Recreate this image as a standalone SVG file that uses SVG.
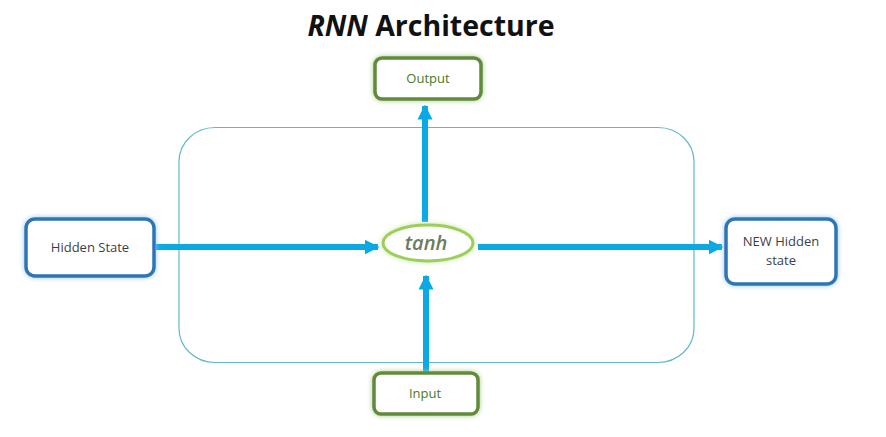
<svg xmlns="http://www.w3.org/2000/svg" width="886" height="437" viewBox="0 0 886 437">
<defs>
<style>
.title{font-family:"Open Sans","Liberation Sans",sans-serif;font-weight:bold;font-size:28.5px;fill:#111}
.lbl{font-family:"Open Sans","Liberation Sans",sans-serif;font-size:13px;text-anchor:middle}
.gbox{fill:#fff;stroke:#5f8b3a;stroke-width:3.5}
.bbox{fill:#fff;stroke:#2f74b5;stroke-width:3.5}
.conn{stroke:#0aa9e6;stroke-width:6;fill:none}
</style>
<filter id="gglow" x="-20%" y="-30%" width="140%" height="160%">
<feGaussianBlur in="SourceAlpha" stdDeviation="2.5" result="b"/>
<feFlood flood-color="#a9c98c"/>
<feComposite in2="b" operator="in" result="g"/>
<feMerge><feMergeNode in="g"/><feMergeNode in="SourceGraphic"/></feMerge>
</filter>
<filter id="bglow" x="-20%" y="-30%" width="140%" height="160%">
<feGaussianBlur in="SourceAlpha" stdDeviation="2.5" result="b"/>
<feFlood flood-color="#8fc6ef"/>
<feComposite in2="b" operator="in" result="g"/>
<feMerge><feMergeNode in="g"/><feMergeNode in="SourceGraphic"/></feMerge>
</filter>
<filter id="eglow" x="-20%" y="-40%" width="140%" height="180%">
<feGaussianBlur in="SourceAlpha" stdDeviation="2.5" result="b"/>
<feFlood flood-color="#c8e6a0"/>
<feComposite in2="b" operator="in" result="g"/>
<feMerge><feMergeNode in="g"/><feMergeNode in="SourceGraphic"/></feMerge>
</filter>
<marker id="ah" viewBox="0 0 10 10" refX="9" refY="5" markerWidth="2.5" markerHeight="2.7" orient="auto" markerUnits="strokeWidth">
<path d="M0,0 L10,5 L0,10 z" fill="#0aa9e6"/>
</marker>
</defs>
<rect width="886" height="437" fill="#fff"/>
<text class="title" x="431" y="36" text-anchor="middle"><tspan font-style="italic">RNN</tspan> Architecture</text>
<g id="cell">
<rect x="179" y="127.5" width="515" height="235" rx="36" ry="34" fill="none" stroke="#5fb8d0" stroke-width="1.2"/>
</g>
<g id="connectors">
<line class="conn" x1="156" y1="247" x2="378" y2="247" marker-end="url(#ah)"/>
<line class="conn" x1="478" y1="247" x2="722" y2="247" marker-end="url(#ah)"/>
<line class="conn" x1="425" y1="222" x2="425" y2="106" marker-end="url(#ah)"/>
<line class="conn" x1="426" y1="372" x2="426" y2="276" marker-end="url(#ah)"/>
</g>
<g id="output">
<rect class="gbox" x="375" y="58" width="106" height="41" rx="7" filter="url(#gglow)"/>
<text class="lbl" x="428" y="83" fill="#4a7a26">Output</text>
</g>
<g id="hidden">
<rect class="bbox" x="26" y="219" width="128" height="57" rx="9" filter="url(#bglow)"/>
<text class="lbl" x="90" y="252" fill="#3a3f4a">Hidden State</text>
</g>
<g id="tanh">
<ellipse cx="428" cy="243" rx="45" ry="18" fill="#fff" stroke="#9ccf5a" stroke-width="3" filter="url(#eglow)"/>
<text x="426" y="250" text-anchor="middle" font-family="'Open Sans','Liberation Sans',sans-serif" font-style="italic" font-weight="600" font-size="20" fill="#6b7d5c">tanh</text>
</g>
<g id="newhidden">
<rect class="bbox" x="726" y="219" width="110" height="65" rx="9" filter="url(#bglow)"/>
<text class="lbl" x="781" y="246" fill="#3a3f4a">NEW Hidden</text>
<text class="lbl" x="781" y="265" fill="#3a3f4a">state</text>
</g>
<g id="input">
<rect class="gbox" x="374" y="373" width="104" height="41" rx="7" filter="url(#gglow)"/>
<text class="lbl" x="425" y="398" fill="#4a7a26">Input</text>
</g>
</svg>
